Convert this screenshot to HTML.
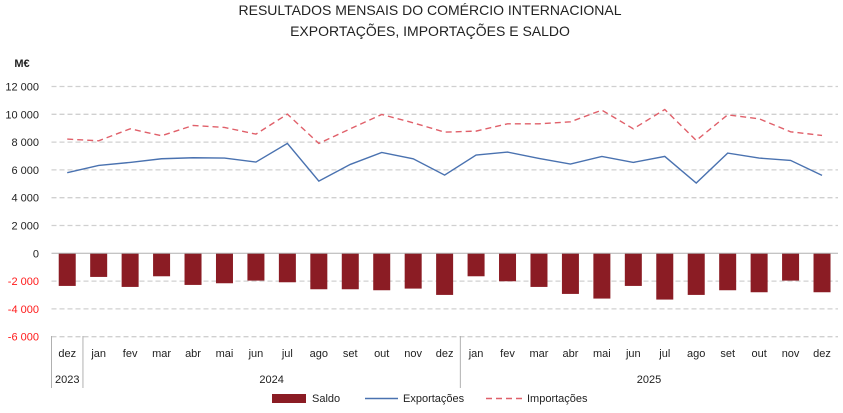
<!DOCTYPE html>
<html><head><meta charset="utf-8"><style>
body{margin:0;background:#fff;}
svg{display:block;font-family:"Liberation Sans",sans-serif;}
</style></head><body>
<svg id="chart" width="843" height="413"></svg>
<script>
const months=["dez","jan","fev","mar","abr","mai","jun","jul","ago","set","out","nov","dez","jan","fev","mar","abr","mai","jun","jul","ago","set","out","nov","dez"];
const exportsVals=[5796,6323,6539,6802,6874,6850,6563,7904,5197,6395,7257,6802,5628,7065,7281,6826,6419,6970,6539,6970,5053,7209,6850,6682,5604];
const importsVals=[8215,8095,8957,8454,9197,9053,8574,10011,7904,8957,9987,9388,8718,8790,9317,9317,9460,10299,8957,10346,8119,9963,9676,8742,8478];
const saldoVals=[-2347,-1700,-2419,-1653,-2275,-2155,-1964,-2084,-2587,-2587,-2658,-2539,-2994,-1653,-2012,-2419,-2922,-3257,-2347,-3329,-2994,-2658,-2802,-1964,-2802];
const yTicks=[12000,10000,8000,6000,4000,2000,0,-2000,-4000,-6000];
const years=[{label:"2023",from:0,to:0},{label:"2024",from:1,to:12},{label:"2025",from:13,to:24}];

const NS="http://www.w3.org/2000/svg";
const svg=document.getElementById('chart');
function mk(tag,attrs,parent){const e=document.createElementNS(NS,tag);for(const k in attrs)e.setAttribute(k,attrs[k]);(parent||svg).appendChild(e);return e;}
const x0=51.5,step=31.45;
const X=i=>x0+step*(i+0.5);
const Y=v=>253.3-v*27.8/2000;

let t=mk('text',{x:430,y:15,'text-anchor':'middle','font-size':14,fill:'#222'});t.textContent="RESULTADOS MENSAIS DO COMÉRCIO INTERNACIONAL";


t=mk('text',{x:430,y:36,'text-anchor':'middle','font-size':14,fill:'#222'});t.textContent="EXPORTAÇÕES, IMPORTAÇÕES E SALDO";


t=mk('text',{x:22,y:67,'text-anchor':'middle','font-size':11,'font-weight':'bold',fill:'#222'});t.textContent="M€";



yTicks.forEach(v=>{
  if(v!==0){const g=mk('line',{x1:x0,x2:838,y1:Y(v),y2:Y(v),stroke:'#d0d0d0','stroke-width':1.3,'stroke-dasharray':'5,3'});
  
  }
  const l=mk('text',{x:39,y:Y(v)+4,'text-anchor':'end','font-size':11,fill:v<0?'#ff1a1a':'#222'});
  l.textContent=v===0?"0":(v<0?"-":"")+Math.abs(v).toLocaleString('en').replace(',',' ');
  
  
});

saldoVals.forEach((v,i)=>{
  const r=mk('rect',{x:X(i)-8.5,y:Y(0),width:17,height:Y(v)-Y(0),fill:'#8b1c24'});
  
  
});
let z=mk('line',{x1:x0,x2:838,y1:Y(0),y2:Y(0),stroke:'#b0b0b0','stroke-width':1});



let p=mk('polyline',{points:importsVals.map((v,i)=>X(i)+','+Y(v)).join(' '),fill:'none',stroke:'#e0606a','stroke-width':1.4,'stroke-dasharray':'6,4'});


p=mk('polyline',{points:exportsVals.map((v,i)=>X(i)+','+Y(v)).join(' '),fill:'none',stroke:'#4a72b0','stroke-width':1.4});



months.forEach((m,i)=>{
  const l=mk('text',{x:X(i),y:357,'text-anchor':'middle','font-size':11,fill:'#222'});l.textContent=m;
  
  
});
years.forEach(yr=>{
  const l=mk('text',{x:(X(yr.from)+X(yr.to))/2,y:383,'text-anchor':'middle','font-size':11,fill:'#222'});l.textContent=yr.label;
  
  
  const s=mk('line',{x1:x0+step*yr.from,x2:x0+step*yr.from,y1:336,y2:388,stroke:'#b0b0b0'});
  
  
});

const lg=mk('g',{});


mk('rect',{x:272,y:394,width:34,height:9,fill:'#8b1c24'},lg);
t=mk('text',{x:312,y:402,'font-size':11,fill:'#222'},lg);t.textContent="Saldo";
mk('line',{x1:365,x2:398,y1:398.5,y2:398.5,stroke:'#4a72b0','stroke-width':1.4},lg);
t=mk('text',{x:403,y:402,'font-size':11,fill:'#222'},lg);t.textContent="Exportações";
mk('line',{x1:486,x2:522,y1:398.5,y2:398.5,stroke:'#e0606a','stroke-width':1.4,'stroke-dasharray':'6,4'},lg);
t=mk('text',{x:527,y:402,'font-size':11,fill:'#222'},lg);t.textContent="Importações";
</script>
</body></html>
